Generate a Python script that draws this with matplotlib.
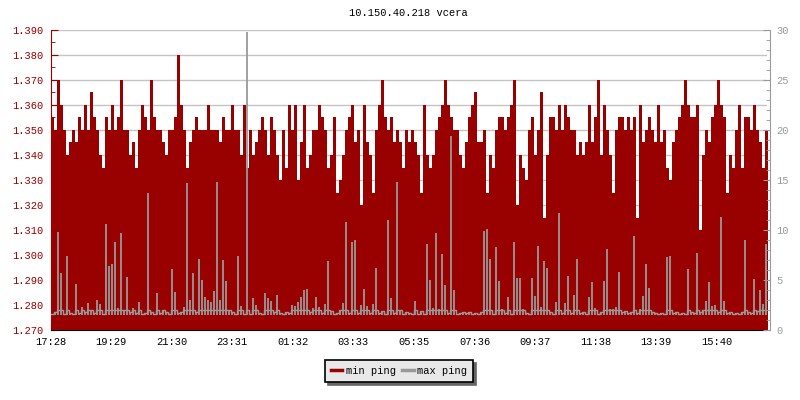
import numpy as np
import matplotlib.pyplot as plt
from matplotlib.lines import Line2D
from matplotlib.ticker import MultipleLocator, FormatStrFormatter

plt.rcParams['font.family'] = ['Liberation Mono', 'DejaVu Sans Mono']
plt.rcParams['font.size'] = 7.5

RED = '#990000'
GRAY = '#999999'

title = '10.150.40.218 vcera'
sample_min = 6  # minutes per sample
x_end = 1432

tick_minutes = [0, 121, 242, 363, 484, 605, 727, 848, 969, 1090, 1211, 1332]
tick_labels = ['17:28', '19:29', '21:30', '23:31', '01:32', '03:33',
               '05:35', '07:36', '09:37', '11:38', '13:39', '15:40']

# min ping in microseconds (left axis, ms = /1000)
min_ping_us = [
    1355, 1350, 1370, 1360, 1350, 1340, 1345, 1350, 1345, 1355,
    1350, 1360, 1350, 1365, 1355, 1350, 1340, 1335, 1355, 1350,
    1360, 1350, 1355, 1370, 1350, 1350, 1340, 1345, 1335, 1350,
    1360, 1355, 1350, 1370, 1355, 1350, 1350, 1345, 1340, 1350,
    1350, 1355, 1380, 1360, 1350, 1335, 1345, 1350, 1355, 1350,
    1350, 1350, 1360, 1350, 1350, 1350, 1345, 1355, 1350, 1350,
    1360, 1350, 1350, 1340, 1360, 1335, 1350, 1340, 1345, 1350,
    1355, 1350, 1340, 1355, 1350, 1340, 1330, 1350, 1335, 1360,
    1350, 1360, 1330, 1345, 1360, 1335, 1340, 1350, 1350, 1360,
    1355, 1350, 1335, 1340, 1355, 1325, 1330, 1340, 1350, 1355,
    1360, 1345, 1350, 1320, 1360, 1345, 1340, 1325, 1350, 1360,
    1370, 1355, 1350, 1355, 1345, 1350, 1345, 1335, 1350, 1345,
    1350, 1345, 1340, 1325, 1360, 1340, 1335, 1340, 1350, 1355,
    1360, 1370, 1360, 1355, 1350, 1350, 1340, 1335, 1345, 1355,
    1360, 1365, 1345, 1345, 1350, 1325, 1340, 1335, 1350, 1355,
    1355, 1350, 1355, 1360, 1370, 1320, 1340, 1335, 1330, 1350,
    1355, 1340, 1350, 1365, 1315, 1340, 1355, 1355, 1350, 1360,
    1350, 1360, 1355, 1350, 1350, 1340, 1345, 1340, 1345, 1360,
    1345, 1355, 1370, 1340, 1360, 1350, 1340, 1325, 1350, 1355,
    1355, 1350, 1355, 1350, 1355, 1315, 1360, 1345, 1350, 1355,
    1350, 1345, 1360, 1345, 1350, 1335, 1330, 1345, 1350, 1355,
    1360, 1370, 1360, 1355, 1355, 1360, 1310, 1340, 1350, 1345,
    1355, 1360, 1370, 1360, 1355, 1325, 1340, 1335, 1350, 1360,
    1335, 1355, 1355, 1350, 1360, 1350, 1345, 1335, 1350,
]

# max ping in ms (right axis)
max_ping = [
    1.6, 1.8, 9.8, 5.7, 1.6, 7.4, 1.7, 1.6, 4.6, 1.7,
    2.3, 1.8, 2.7, 2.0, 1.7, 3.0, 2.6, 1.6, 10.6, 6.4,
    6.6, 8.8, 2.2, 9.7, 2.0, 5.3, 1.8, 2.2, 1.7, 2.8,
    1.6, 1.7, 13.7, 1.8, 1.6, 3.7, 1.7, 2.0, 1.8, 1.6,
    6.1, 3.8, 1.7, 1.8, 2.3, 14.7, 3.0, 5.7, 1.8, 7.1,
    5.0, 3.3, 3.0, 2.8, 3.9, 14.8, 3.0, 7.0, 4.9, 2.0,
    1.8, 1.6, 7.4, 2.4, 1.6, 29.8, 1.6, 3.2, 2.5, 1.7,
    1.6, 3.7, 3.2, 2.9, 1.8, 3.5, 1.7, 1.6, 1.8, 1.7,
    2.5, 2.4, 2.8, 3.3, 4.0, 4.1, 1.8, 2.2, 3.3, 2.3,
    1.7, 2.6, 6.9, 1.9, 1.6, 1.7, 2.0, 2.7, 10.8, 1.7,
    8.8, 9.0, 1.7, 2.5, 4.1, 2.4, 1.7, 2.6, 6.2, 1.7,
    1.9, 1.6, 11.0, 3.2, 1.7, 14.8, 2.0, 1.6, 1.8, 1.7,
    1.6, 2.9, 1.6, 1.9, 1.6, 8.6, 5.0, 2.2, 9.7, 2.1,
    7.6, 4.5, 1.7, 19.4, 4.0, 1.6, 1.7, 1.8, 1.7, 1.8,
    1.6, 1.7, 1.6, 1.8, 9.9, 10.1, 7.1, 1.6, 8.3, 4.9,
    2.1, 1.7, 3.3, 1.6, 8.8, 5.2, 5.2, 2.1, 1.7, 1.6,
    5.2, 3.4, 8.4, 2.3, 6.9, 6.2, 1.8, 1.6, 2.8, 11.7,
    1.7, 2.7, 5.4, 1.7, 3.5, 7.1, 1.7, 1.8, 1.6, 3.3,
    4.8, 2.2, 1.6, 1.8, 4.9, 8.1, 2.1, 2.1, 2.3, 5.8,
    1.8, 1.9, 1.7, 1.8, 9.4, 1.7, 2.1, 3.4, 6.6, 4.2,
    1.8, 1.7, 1.6, 1.7, 1.6, 7.3, 7.4, 1.7, 1.8, 1.6,
    1.7, 1.6, 6.1, 1.8, 1.7, 7.7, 1.8, 2.0, 2.9, 4.8,
    2.4, 2.5, 1.8, 11.3, 2.9, 1.7, 1.8, 1.6, 1.7, 1.6,
    1.8, 9.0, 1.8, 1.7, 5.1, 1.9, 4.0, 2.6, 8.6,
]
max_floor = 1.5  # quiet level the max ping sits on between spikes

min_ping = np.array(min_ping_us) / 1000.0
max_ping = np.array(max_ping)
n = len(min_ping)
edges = np.arange(n + 1) * sample_min
centers = edges[:-1] + sample_min / 2

fig = plt.figure(figsize=(8, 4), dpi=100)
ax = fig.add_axes([50.7 / 800, 70 / 400, 716 / 800, 300 / 400])

# min ping as filled steps
ax.fill_between(edges, 1.27, np.append(min_ping, min_ping[-1]), step='post',
                color=RED, lw=0, zorder=1)
ax.set_xlim(0, x_end)
ax.set_ylim(1.27, 1.39)
ax.yaxis.set_major_locator(MultipleLocator(0.01))
ax.yaxis.set_minor_locator(MultipleLocator(0.005))
ax.yaxis.set_major_formatter(FormatStrFormatter('%.3f'))
ax.set_xticks(tick_minutes)
ax.set_xticklabels(tick_labels)
ax.set_axisbelow(True)
ax.yaxis.grid(True, which='major', color='#c4c4c4', lw=1)
ax.tick_params(axis='y', which='both', direction='in', color=RED,
               labelcolor=RED, pad=5)
ax.tick_params(axis='y', which='major', length=5)
ax.tick_params(axis='y', which='minor', length=3)
ax.tick_params(axis='x', direction='in', length=5, color='black', pad=5)
ax.spines['left'].set_color(RED)
ax.spines['bottom'].set_color('black')
ax.spines['top'].set_visible(False)
ax.spines['right'].set_visible(False)

# max ping on the right axis: quiet line plus thin spikes
ax2 = ax.twinx()
quiet = np.minimum(max_ping, 2.0)
ax2.plot(edges, np.append(quiet, quiet[-1]), drawstyle='steps-post',
         color=GRAY, lw=1)
ax2.vlines(centers, max_floor, max_ping, color=GRAY, lw=1.3)
ax2.set_ylim(0, 30)
ax2.yaxis.set_major_locator(MultipleLocator(5))
ax2.yaxis.set_minor_locator(MultipleLocator(1))
ax2.tick_params(axis='y', which='both', direction='in', color=GRAY,
                labelcolor=GRAY, pad=5)
ax2.tick_params(axis='y', which='major', length=5)
ax2.tick_params(axis='y', which='minor', length=3)
for s in ['left', 'top', 'bottom']:
    ax2.spines[s].set_visible(False)
ax2.spines['right'].set_color(GRAY)
ax2.spines['right'].set_position(('outward', 2.2))

fig.text(408.7 / 800, 1 - 13 / 400, title, ha='center', va='center')

handles = [Line2D([], [], color=RED, lw=2.5, label='min ping'),
           Line2D([], [], color=GRAY, lw=2.5, label='max ping')]
leg = fig.legend(handles=handles, loc='center', bbox_to_anchor=(399 / 800, 1 - 371 / 400),
                 ncol=2, fancybox=False, facecolor='#e8e8e8', edgecolor='black',
                 framealpha=1, handlelength=1.1, handletextpad=0.35,
                 columnspacing=0.6, borderpad=0.55,
                 shadow={'ox': 2.2, 'oy': -2.2, 'facecolor': '#666666',
                         'edgecolor': '#666666', 'alpha': 1})
leg.get_frame().set_linewidth(1.2)

fig.savefig('out.png', dpi=100)
